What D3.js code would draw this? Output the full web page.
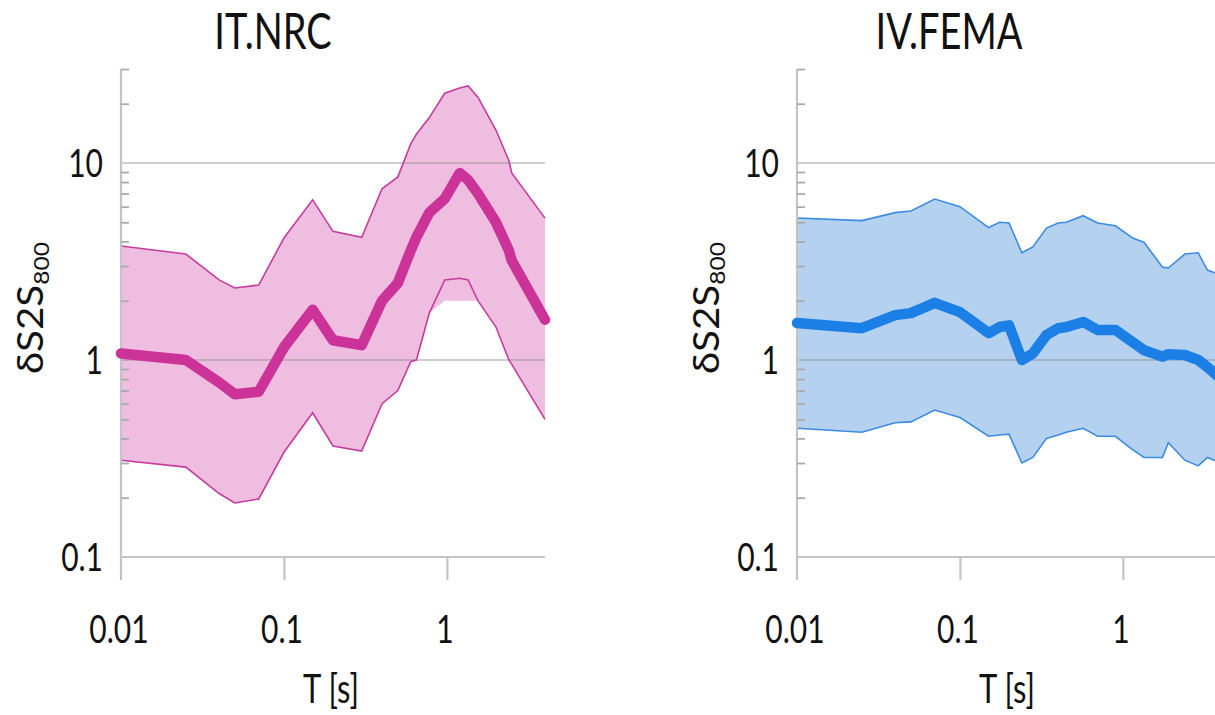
<!DOCTYPE html>
<html>
<head>
<meta charset="utf-8">
<script src="https://cdn.jsdelivr.net/npm/d3@7"></script>
<style>
  html, body { margin: 0; padding: 0; background: #fff; overflow: hidden; }
  svg { display: block; font-family: Lato, "Open Sans", sans-serif; }
</style>
</head>
<body>
<svg id="chart" width="1215" height="715"></svg>
<script>
// ---------------- data ----------------
const titles = ["IT.NRC", "IV.FEMA"];
const xTickValues = [0.01, 0.1, 1];
const xTickLabels = ["0.01", "0.1", "1"];
const yTickValues = [0.1, 1, 10];
const yTickLabels = ["0.1", "1", "10"];
const yMinorTicks = [0.2, 0.3, 0.4, 0.5, 0.6, 0.7, 0.8, 0.9, 2, 3, 4, 5, 6, 7, 8, 9, 20, 30];

// IT.NRC
const periodsNRC = [0.01, 0.025, 0.04, 0.05, 0.07, 0.1, 0.15, 0.2, 0.3, 0.4, 0.5, 0.6, 0.65, 0.78, 0.97, 1.2, 1.35, 1.55, 2.0, 2.4, 2.5, 4.0];
const meanNRC  = [1.08, 1.0, 0.77, 0.67, 0.69, 1.16, 1.8, 1.26, 1.19, 2.0, 2.46, 3.6, 4.2, 5.6, 6.6, 8.9, 8.2, 7.0, 5.0, 3.6, 3.2, 1.6];
const upperNRC = [3.79, 3.45, 2.55, 2.32, 2.4, 4.16, 6.5, 4.5, 4.2, 7.4, 8.5, 12.5, 14.0, 17.0, 22.6, 24.0, 24.6, 21.6, 14.7, 10.3, 8.9, 5.25];
const lowerNRC = [0.31, 0.286, 0.21, 0.188, 0.197, 0.34, 0.54, 0.366, 0.345, 0.6, 0.70, 0.98, 1.0, 1.73, 2.55, 2.6, 2.55, 2.0, 1.47, 1.0, 0.95, 0.5];
// the shaded band of IT.NRC reaches down to this level where the lower bound lies above it
const fillFloorNRC = 2.0;

// IV.FEMA
const periodsFEMA = [0.01, 0.025, 0.04, 0.05, 0.07, 0.1, 0.15, 0.175, 0.2, 0.24, 0.28, 0.34, 0.4, 0.45, 0.57, 0.7, 0.9, 1.15, 1.35, 1.75, 1.9, 2.4, 2.9, 3.3, 4.0];
const meanFEMA  = [1.54, 1.45, 1.69, 1.73, 1.95, 1.75, 1.37, 1.47, 1.5, 1.0, 1.08, 1.34, 1.45, 1.47, 1.56, 1.42, 1.42, 1.23, 1.12, 1.04, 1.07, 1.06, 1.0, 0.92, 0.8];
const upperFEMA = [5.26, 5.1, 5.6, 5.7, 6.56, 6.0, 4.7, 5.0, 4.96, 3.5, 3.75, 4.67, 4.96, 5.0, 5.4, 4.96, 4.8, 4.16, 3.95, 2.96, 2.93, 3.45, 3.5, 2.86, 2.7];
const lowerFEMA = [0.45, 0.43, 0.48, 0.485, 0.557, 0.51, 0.41, 0.416, 0.42, 0.30, 0.32, 0.40, 0.416, 0.43, 0.45, 0.41, 0.41, 0.35, 0.32, 0.32, 0.38, 0.31, 0.29, 0.32, 0.3];

const panelColors = [
  { line: "#cc3399", fill: "#efbde0", edge: "#c43c9e" },
  { line: "#1b7fe6", fill: "#b5d1f0", edge: "#3b8be0" }
];

// ---------------- drawing ----------------
const svg = d3.select("#chart");
const panels = [
  { title: titles[0], x0: 121, T: periodsNRC, mean: meanNRC, upper: upperNRC, lower: lowerNRC, floor: fillFloorNRC, c: panelColors[0] },
  { title: titles[1], x0: 797, T: periodsFEMA, mean: meanFEMA, upper: upperFEMA, lower: lowerFEMA, floor: Infinity, c: panelColors[1] }
];

function addText(g, str, x, y, size, anchor, sx, sy) {
  return g.append("text")
    .attr("transform", `translate(${x},${y}) scale(${sx},${sy})`)
    .attr("text-anchor", anchor)
    .attr("font-size", size)
    .attr("fill", "#111")
    .text(str);
}

panels.forEach((p, i) => {
  const g = svg.append("g");
  const x = d3.scaleLog().domain([0.01, 4]).range([p.x0, p.x0 + 424]);
  const y = d3.scaleLog().domain([0.1, 30]).range([557, 69]);
  const pts = p.T.map((t, k) => ({ t, m: p.mean[k], u: p.upper[k], l: p.lower[k] }));

  // band
  const area = d3.area().x(d => x(d.t)).y0(d => y(Math.min(d.l, p.floor))).y1(d => y(d.u));
  g.append("path").datum(pts).attr("d", area).attr("fill", p.c.fill);

  // gridlines (over the fill, semi-transparent)
  [1, 10].forEach(v => {
    g.append("line")
      .attr("x1", x(0.01)).attr("x2", x(4))
      .attr("y1", y(v)).attr("y2", y(v))
      .attr("stroke", "#8a8a8a").attr("stroke-opacity", 0.42).attr("stroke-width", 2);
  });

  // band edges
  const upLine = d3.line().x(d => x(d.t)).y(d => y(d.u));
  const loLine = d3.line().x(d => x(d.t)).y(d => y(d.l));
  g.append("path").datum(pts).attr("d", upLine).attr("fill", "none").attr("stroke", p.c.edge).attr("stroke-width", 1.6);
  g.append("path").datum(pts).attr("d", loLine).attr("fill", "none").attr("stroke", p.c.edge).attr("stroke-width", 1.6);

  // x axis line (0.1) and y axis line
  g.append("line").attr("x1", x(0.01)).attr("x2", x(4)).attr("y1", y(0.1)).attr("y2", y(0.1))
    .attr("stroke", "#c4c4c4").attr("stroke-width", 2.2);
  g.append("line").attr("x1", x(0.01)).attr("x2", x(0.01)).attr("y1", y(30)).attr("y2", 580)
    .attr("stroke", "#c4c4c4").attr("stroke-width", 2.2);

  // minor y ticks (inside, to the right)
  const minorAxis = d3.axisLeft(y).tickValues(yMinorTicks).tickSize(-8).tickFormat("");
  const ma = g.append("g").attr("transform", `translate(${x(0.01)},0)`).call(minorAxis);
  ma.select(".domain").remove();
  ma.selectAll(".tick line").attr("stroke", "#aaaaaa").attr("stroke-width", 1.8);

  // x ticks (downwards)
  const xAxis = d3.axisBottom(x).tickValues(xTickValues.slice(1)).tickSize(23).tickFormat("");
  const xa = g.append("g").attr("transform", `translate(0,${y(0.1)})`).call(xAxis);
  xa.select(".domain").remove();
  xa.selectAll(".tick line").attr("stroke", "#c4c4c4").attr("stroke-width", 2.2);

  // mean line
  const mLine = d3.line().x(d => x(d.t)).y(d => y(d.m));
  g.append("path").datum(pts).attr("d", mLine).attr("fill", "none")
    .attr("stroke", p.c.line).attr("stroke-width", 10.5)
    .attr("stroke-linejoin", "round").attr("stroke-linecap", "round");

  // tick labels
  yTickValues.forEach((v, k) => {
    addText(g, yTickLabels[k], p.x0 - 18, y(v) + 14, 30, "end", 1, 1.3);
  });
  xTickValues.forEach((v, k) => {
    addText(g, xTickLabels[k], x(v) - 2, 643, 30, "middle", 1, 1.3);
  });

  // axis titles
  addText(g, "T [s]", p.x0 + 210, 703, 31, "middle", 1, 1.3);
  const yl = g.append("text")
    .attr("transform", `translate(${p.x0 - 78},308) rotate(-90) scale(1.12,1)`)
    .attr("text-anchor", "middle")
    .attr("font-size", 36).attr("fill", "#111");
  yl.append("tspan").text("δS2S");
  yl.append("tspan").attr("font-size", 22).attr("dy", 6).text("800");

  // panel title
  addText(g, p.title, p.x0 + 152, 49, 38, "middle", 1, 1.3);
});
</script>
</body>
</html>
